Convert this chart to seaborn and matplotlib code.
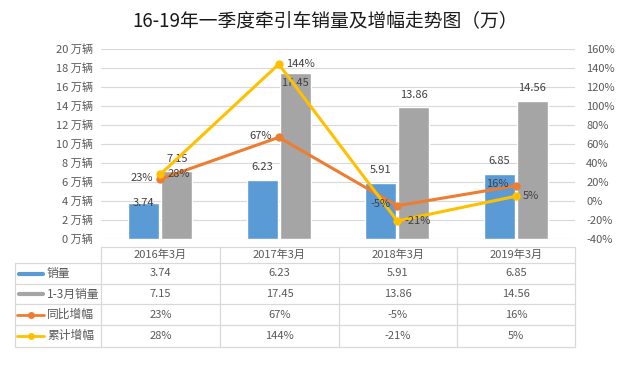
import matplotlib
matplotlib.use("Agg")
import matplotlib.pyplot as plt
import seaborn as sns
import pandas as pd
from matplotlib.lines import Line2D

# ---------------- data ----------------
categories = ["2016年3月", "2017年3月", "2018年3月", "2019年3月"]
sales_march = [3.74, 6.23, 5.91, 6.85]          # 销量
sales_q1 = [7.15, 17.45, 13.86, 14.56]          # 1-3月销量
yoy_growth = [23, 67, -5, 16]                   # 同比增幅 (%)
cum_growth = [28, 144, -21, 5]                  # 累计增幅 (%)
series_names = ["销量", "1-3月销量", "同比增幅", "累计增幅"]
left_ticks = [0, 2, 4, 6, 8, 10, 12, 14, 16, 18, 20]
right_ticks = [-40, -20, 0, 20, 40, 60, 80, 100, 120, 140, 160]
title = "16-19年一季度牵引车销量及增幅走势图（万）"

# ---------------- style ----------------
sns.set_theme(style="white")
plt.rcParams["font.family"] = ["Noto Sans CJK SC", "DejaVu Sans"]
C_BLUE, C_GRAY, C_ORANGE, C_YELLOW = "#5B9BD5", "#A5A5A5", "#ED7D31", "#FFC000"
TXT = "#404040"
TICK = "#595959"
GRID = "#D9D9D9"
FS = 8

W, H = 626, 371
fig = plt.figure(figsize=(W / 100, H / 100), dpi=100)

def rect(x0, y0, x1, y1):
    return [x0 / W, 1 - y1 / H, (x1 - x0) / W, (y1 - y0) / H]

ax = fig.add_axes(rect(101, 49, 575, 239))

df = pd.DataFrame({
    "cat": categories * 2,
    "series": [series_names[0]] * 4 + [series_names[1]] * 4,
    "value": sales_march + sales_q1,
})
sns.barplot(data=df, x="cat", y="value", hue="series", order=categories,
            hue_order=series_names[:2], palette=[C_BLUE, C_GRAY],
            width=0.56, gap=0.06, legend=False, ax=ax, saturation=1, zorder=2)

ax.set_xlim(-0.5, 3.5)
ax.set_ylim(0, 20)
ax.set_yticks(left_ticks)
ax.set_yticklabels([f"{v} 万辆" for v in left_ticks])
ax.set_xticks([])
ax.set_xlabel("")
ax.set_ylabel("")
ax.grid(axis="y", color=GRID, linewidth=0.8, zorder=0)
ax.set_axisbelow(True)
for s in ax.spines.values():
    s.set_visible(False)
ax.tick_params(axis="y", length=0, pad=6, labelsize=FS, labelcolor=TICK)

# bar labels (offsets in points)
bar_offsets = [[0, 9, 9, 9], [9, -7, 9, 9]]
for ci, cont in enumerate(ax.containers):
    vals = [sales_march, sales_q1][ci]
    for i, p in enumerate(cont.patches):
        ax.annotate(f"{vals[i]:.2f}", (p.get_x() + p.get_width() / 2, p.get_height()),
                    xytext=(0, bar_offsets[ci][i]), textcoords="offset points",
                    ha="center", va="center", fontsize=FS, color=TXT, zorder=5)

# lines on secondary axis
ax2 = ax.twinx()
ax2.set_ylim(-40, 160)
ax2.set_yticks(right_ticks)
ax2.set_yticklabels([f"{v}%" for v in right_ticks])
for s in ax2.spines.values():
    s.set_visible(False)
ax2.tick_params(axis="y", length=0, pad=8, labelsize=FS, labelcolor=TICK)
xs = list(range(len(categories)))
sns.lineplot(x=xs, y=yoy_growth, ax=ax2, color=C_ORANGE, linewidth=2.2,
             marker="o", markersize=6, markeredgewidth=0, zorder=4)
sns.lineplot(x=xs, y=cum_growth, ax=ax2, color=C_YELLOW, linewidth=2.2,
             marker="o", markersize=6, markeredgewidth=0, zorder=4)
ax2.set_xlim(-0.5, 3.5)
for i in xs:
    ax2.annotate(f"{yoy_growth[i]}%", (i, yoy_growth[i]), xytext=(-5, 1),
                 textcoords="offset points", ha="right", va="center",
                 fontsize=FS, color=TXT, zorder=6)
    ax2.annotate(f"{cum_growth[i]}%", (i, cum_growth[i]), xytext=(5, 0),
                 textcoords="offset points", ha="left", va="center",
                 fontsize=FS, color=TXT, zorder=6)

# title
fig.text(325 / W, 1 - 22 / H, title, ha="center", va="center",
         fontsize=13.5, color="#1a1a1a")

# ---------------- data table ----------------
tab = fig.add_axes([0, 0, 1, 1], zorder=-1)
tab.set_xlim(0, W)
tab.set_ylim(H, 0)
tab.axis("off")
col_x = [101, 220, 339, 457, 575]
row_y = [247, 263, 284, 304, 325, 347]
lc = "#D9D9D9"
tab.plot([101, 575], [row_y[0]] * 2, color=lc, lw=0.9)
for y in row_y[1:]:
    tab.plot([15, 575], [y, y], color=lc, lw=0.9)
for x in col_x:
    tab.plot([x, x], [row_y[0], row_y[-1]], color=lc, lw=0.9)
tab.plot([15, 15], [row_y[1], row_y[-1]], color=lc, lw=0.9)

for j, c in enumerate(categories):
    tab.text((col_x[j] + col_x[j + 1]) / 2, (row_y[0] + row_y[1]) / 2, c,
             ha="center", va="center", fontsize=FS, color=TICK)
table_rows = [
    [f"{v:.2f}" for v in sales_march],
    [f"{v:.2f}" for v in sales_q1],
    [f"{v}%" for v in yoy_growth],
    [f"{v}%" for v in cum_growth],
]
key_colors = [C_BLUE, C_GRAY, C_ORANGE, C_YELLOW]
for r in range(4):
    yc = (row_y[r + 1] + row_y[r + 2]) / 2
    if r < 2:
        tab.add_line(Line2D([19, 43], [yc, yc], color=key_colors[r], lw=3))
    else:
        tab.add_line(Line2D([17, 44], [yc, yc], color=key_colors[r], lw=2))
        tab.plot([31], [yc], marker="o", color=key_colors[r], markersize=5,
                 markeredgewidth=0)
    tab.text(47, yc, series_names[r], ha="left", va="center", fontsize=FS + 0.5,
             color=TICK)
    for j in range(4):
        tab.text((col_x[j] + col_x[j + 1]) / 2, yc, table_rows[r][j],
                 ha="center", va="center", fontsize=FS, color=TICK)

fig.savefig("out.png", dpi=100, facecolor="white")
